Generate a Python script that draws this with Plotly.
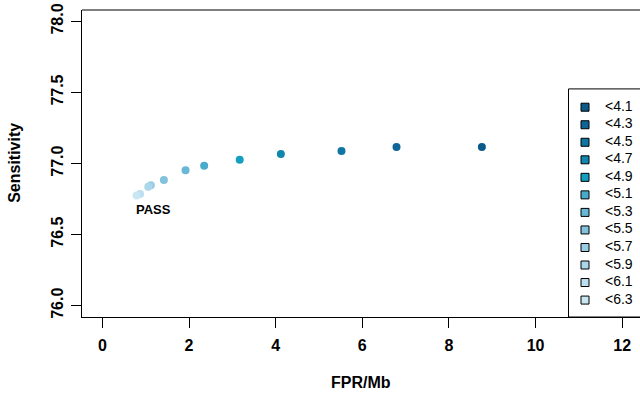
import plotly.graph_objects as go

# ---- data ----
thresholds = ["<4.1", "<4.3", "<4.5", "<4.7", "<4.9", "<5.1",
              "<5.3", "<5.5", "<5.7", "<5.9", "<6.1", "<6.3"]
fpr_per_mb = [8.76, 6.79, 5.52, 4.12, 3.17, 2.35, 1.92, 1.42, 1.12, 1.06, 0.87, 0.79]
sensitivity = [77.116, 77.116, 77.088, 77.067, 77.027, 76.985,
               76.952, 76.884, 76.847, 76.837, 76.786, 76.774]
colors = ["#0b5a8a", "#0d6696", "#0f75a2", "#1186ae", "#149fbf", "#48abcb",
          "#67b7d5", "#82c2dd", "#99cde4", "#acd6ea", "#bcdfef", "#cbe6f3"]
x_ticks = [0, 2, 4, 6, 8, 10, 12]
y_ticks = [76.0, 76.5, 77.0, 77.5, 78.0]
pass_label = {"text": "PASS", "x": 1.19, "y": 76.673}

FONT = "Liberation Sans, Arial, Helvetica, sans-serif"

# plot area in pixels
L, R, T, B = 82, 640, 10, 317.3
W, H = 640, 398

fig = go.Figure()

fig.add_trace(go.Scatter(
    x=fpr_per_mb, y=sensitivity, mode="markers",
    marker=dict(color=colors, size=8, line=dict(width=0)),
    showlegend=False, xaxis="x", yaxis="y"))

# ---- hand-drawn legend on an overlay axis measured in pixels ----
leg_top, leg_step = 107.3, 17.55
leg_y = [leg_top + i * leg_step for i in range(len(thresholds))]
fig.add_trace(go.Scatter(
    x=[585] * len(thresholds), y=leg_y, mode="markers",
    marker=dict(symbol="square", size=8, color=colors,
                line=dict(color="black", width=1)),
    showlegend=False, xaxis="x2", yaxis="y2", cliponaxis=False))
fig.add_trace(go.Scatter(
    x=[605] * len(thresholds), y=leg_y, mode="text", text=thresholds,
    textposition="middle right",
    textfont=dict(family=FONT, size=14, color="black"),
    showlegend=False, xaxis="x2", yaxis="y2", cliponaxis=False))

fig.update_layout(
    width=W, height=H,
    margin=dict(l=L, r=W - R, t=T, b=H - B, autoexpand=False),
    paper_bgcolor="white", plot_bgcolor="white",
    font=dict(family=FONT, color="black"),
    hovermode=False,
    xaxis=dict(range=[-0.47, 12.41], tickvals=x_ticks,
               ticktext=[str(v) for v in x_ticks],
               showgrid=False, zeroline=False, automargin=False,
               showline=True, linecolor="black", linewidth=1,
               ticks="outside", ticklen=10, tickcolor="black", tickwidth=1,
               tickfont=dict(family=FONT, size=16, color="black", weight="bold"),
               ticklabelstandoff=4),
    yaxis=dict(range=[75.92, 78.08], tickvals=y_ticks,
               ticktext=["%.1f" % v for v in y_ticks],
               showgrid=False, zeroline=False, automargin=False,
               showline=True, linecolor="black", linewidth=1,
               ticks="outside", ticklen=10, tickcolor="black", tickwidth=1,
               tickangle=-90,
               tickfont=dict(family=FONT, size=16, color="black", weight="bold"),
               ticklabelstandoff=2),
    xaxis2=dict(range=[L, R], domain=[0, 1], anchor="y2", overlaying="x",
                visible=False, automargin=False),
    yaxis2=dict(range=[B, T], domain=[0, 1], anchor="x2", overlaying="y",
                visible=False, automargin=False),
    shapes=[
        dict(type="line", xref="paper", yref="paper", x0=0, x1=1.02, y0=1, y1=1,
             line=dict(color="black", width=1)),
        dict(type="rect", xref="x2", yref="y2", x0=568.5, x1=660, y0=89, y1=B,
             line=dict(color="black", width=1), fillcolor="white", layer="below"),
    ],
    annotations=[
        dict(text=pass_label["text"], x=pass_label["x"], y=pass_label["y"],
             xref="x", yref="y", showarrow=False,
             font=dict(family=FONT, size=13, color="black", weight="bold")),
        dict(text="FPR/Mb", xref="paper", yref="paper", x=(361 - L) / (R - L), y=0,
             yshift=-(383 - B), showarrow=False, yanchor="middle",
             font=dict(family=FONT, size=16, color="black", weight="bold")),
        dict(text="Sensitivity", xref="paper", yref="paper", x=0, xshift=-(L - 15),
             y=(B - 163) / (B - T), showarrow=False, textangle=-90,
             xanchor="center", yanchor="middle",
             font=dict(family=FONT, size=16, color="black", weight="bold")),
    ],
)

fig.write_html("out.html",
               config={"displayModeBar": False},
               post_script="document.body.style.margin='0';"
                           "document.body.style.overflow='hidden';")
